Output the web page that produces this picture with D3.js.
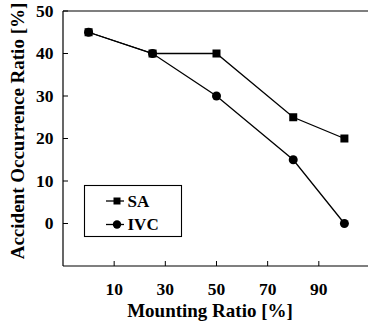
<!DOCTYPE html>
<html>
<head>
<meta charset="utf-8">
<script src="https://cdn.jsdelivr.net/npm/d3@7"></script>
<style>
  body { margin: 0; background: #fff; }
  text { font-family: "Liberation Serif", "Times New Roman", serif; font-weight: bold; fill: #000; }
</style>
</head>
<body>
<div id="chart"></div>
<script>
// データ
const mountRatio = [0, 25, 50, 80, 100];
const saValues = [45, 40, 40, 25, 20];
const ivcValues = [45, 40, 30, 15, 0];
const xTicks = [10, 30, 50, 70, 90];
const yTicks = [0, 10, 20, 30, 40, 50];
const seriesNames = ["SA", "IVC"];

const width = 368;
const height = 327;
const svg = d3.select("#chart").append("svg")
    .attr("width", width)
    .attr("height", height);

const x = d3.scaleLinear().domain([-10, 100]).range([63, 344.4]);
const y = d3.scaleLinear().domain([-10, 50]).range([266, 11]);

// 枠（上と下は右端まで、右側の線はなし）
svg.append("line").attr("x1", 63).attr("x2", width).attr("y1", 11).attr("y2", 11)
    .attr("stroke", "#000").attr("stroke-width", 1.2);
svg.append("line").attr("x1", 63).attr("x2", width).attr("y1", 266).attr("y2", 266)
    .attr("stroke", "#000").attr("stroke-width", 1.2);
svg.append("line").attr("x1", 63).attr("x2", 63).attr("y1", 11).attr("y2", 266)
    .attr("stroke", "#000").attr("stroke-width", 1.2);

// 目盛り（内向き）
svg.selectAll(".ytick").data(yTicks).enter().append("line")
    .attr("x1", 63).attr("x2", 68)
    .attr("y1", d => y(d)).attr("y2", d => y(d))
    .attr("stroke", "#000");
svg.selectAll(".xtick").data(xTicks).enter().append("line")
    .attr("x1", d => x(d)).attr("x2", d => x(d))
    .attr("y1", 266).attr("y2", 261)
    .attr("stroke", "#000");

svg.selectAll(".ylab").data(yTicks).enter().append("text")
    .attr("x", 53.5).attr("y", d => y(d) + 5.5)
    .attr("text-anchor", "end")
    .attr("font-size", "17.5px")
    .text(d => d);
svg.selectAll(".xlab").data(xTicks).enter().append("text")
    .attr("x", d => x(d)).attr("y", 295)
    .attr("text-anchor", "middle")
    .attr("font-size", "17.5px")
    .text(d => d);

// 軸タイトル
svg.append("text")
    .attr("x", 210).attr("y", 317)
    .attr("text-anchor", "middle")
    .attr("font-size", "19px")
    .text("Mounting Ratio [%]");
svg.append("text")
    .attr("transform", "translate(23.5,131) rotate(-90)")
    .attr("text-anchor", "middle")
    .attr("font-size", "19px")
    .text("Accident Occurrence Ratio [%]");

// 折れ線
const line = d3.line().x(d => x(d[0])).y(d => y(d[1]));
const saData = mountRatio.map((m, i) => [m, saValues[i]]);
const ivcData = mountRatio.map((m, i) => [m, ivcValues[i]]);

svg.append("path").datum(saData).attr("d", line)
    .attr("fill", "none").attr("stroke", "#000").attr("stroke-width", 1.3);
svg.append("path").datum(ivcData).attr("d", line)
    .attr("fill", "none").attr("stroke", "#000").attr("stroke-width", 1.3);

svg.selectAll(".sq").data(saData).enter().append("rect")
    .attr("x", d => x(d[0]) - 4).attr("y", d => y(d[1]) - 4)
    .attr("width", 8).attr("height", 8)
    .attr("fill", "#000");
svg.selectAll(".ci").data(ivcData).enter().append("circle")
    .attr("cx", d => x(d[0])).attr("cy", d => y(d[1]))
    .attr("r", 4.5)
    .attr("fill", "#000");

// 凡例
svg.append("rect").attr("x", 84.5).attr("y", 185.5).attr("width", 97).attr("height", 51)
    .attr("fill", "#fff").attr("stroke", "#000").attr("stroke-width", 1.1);
const legY = [201, 224.5];
seriesNames.forEach((name, i) => {
    svg.append("line").attr("x1", 106).attr("x2", 124)
        .attr("y1", legY[i]).attr("y2", legY[i])
        .attr("stroke", "#000").attr("stroke-width", 1.3);
    if (i === 0) {
        svg.append("rect").attr("x", 113.5).attr("y", legY[i] - 3.5)
            .attr("width", 7).attr("height", 7).attr("fill", "#000");
    } else {
        svg.append("circle").attr("cx", 117).attr("cy", legY[i]).attr("r", 4.2).attr("fill", "#000");
    }
    svg.append("text").attr("x", 127.5).attr("y", legY[i] + 5.5)
        .attr("font-size", "17px")
        .text(name);
});
</script>
</body>
</html>
